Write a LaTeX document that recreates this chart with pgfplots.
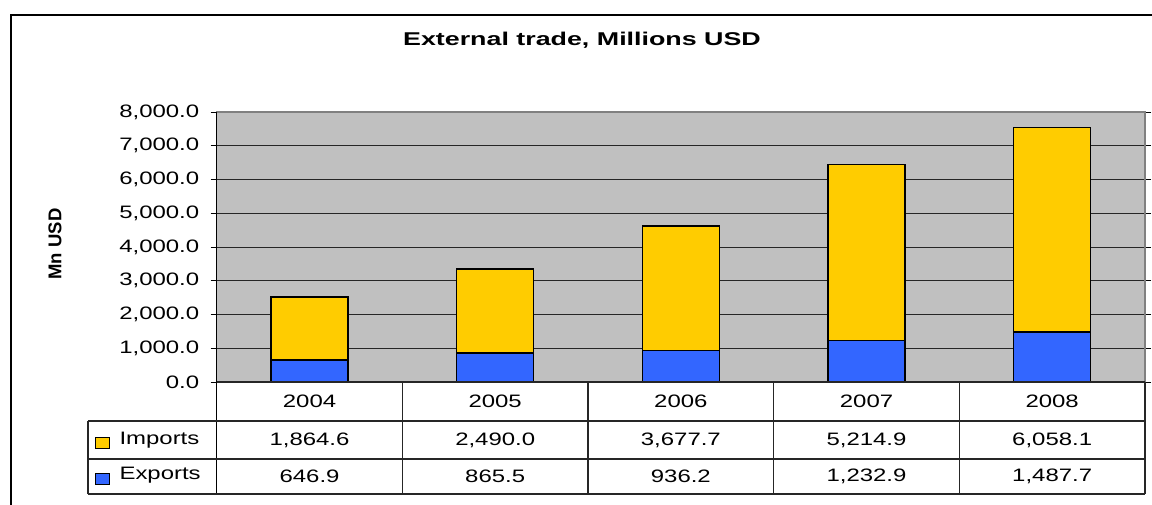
\documentclass[border=0pt]{standalone}
\usepackage{pgfplots}
\pgfplotsset{compat=1.18}
\usepackage{fontspec}
\setmainfont{Liberation Sans}[FakeStretch=1.33]
\newfontfamily\plainsans{Liberation Sans}
\newfontfamily\titlesans{Liberation Sans}[FakeStretch=1.45]
\definecolor{bggray}{HTML}{C0C0C0}
\definecolor{impc}{HTML}{FFCC00}
\definecolor{expc}{HTML}{3366FF}
\newcommand\tf{\fontsize{18}{21}\selectfont}
\begin{document}
\begin{tikzpicture}[x=1pt,y=1pt]
\begin{axis}[
  at={(216.7pt,122pt)}, anchor=south west,
  scale only axis, width=928.3pt, height=270pt,
  ybar stacked, bar width=77pt,
  xmin=-0.5, xmax=4.5, ymin=0, ymax=8000,
  xtick={0,1,2,3,4}, xticklabels={2004,2005,2006,2007,2008},
  xticklabel style={anchor=center, yshift=-19.5pt, font=\tf},
  major x tick style={draw=none},
  ytick={0,1000,...,8000},
  yticklabel style={font=\tf, xshift=-8pt},
  /pgf/number format/.cd, assume math mode=true, fixed, fixed zerofill, precision=1, 1000 sep={,},
  /pgfplots/.cd,
  ytick align=outside, major tick length=6pt,
  major y tick style={black, line width=0.9pt},
  ymajorgrids, grid style={black!85, line width=0.9pt},
  axis background/.style={fill=bggray},
  axis line style={draw=gray, line width=1.2pt},
  clip=false,
]
\addplot[fill=expc, draw=black, line width=1.6pt] coordinates {(0,646.9) (1,865.5) (2,936.2) (3,1232.9) (4,1487.7)};
\addplot[fill=impc, draw=black, line width=1.6pt] coordinates {(0,1864.6) (1,2490.0) (2,3677.7) (3,5214.9) (4,6058.1)};
\node[font=\tf, yshift=-58pt] at (axis cs:0,0) {1,864.6};
\node[font=\tf, yshift=-58pt] at (axis cs:1,0) {2,490.0};
\node[font=\tf, yshift=-58pt] at (axis cs:2,0) {3,677.7};
\node[font=\tf, yshift=-58pt] at (axis cs:3,0) {5,214.9};
\node[font=\tf, yshift=-58pt] at (axis cs:4,0) {6,058.1};
\node[font=\tf, yshift=-94pt] at (axis cs:0,0) {646.9};
\node[font=\tf, yshift=-94pt] at (axis cs:1,0) {865.5};
\node[font=\tf, yshift=-94pt] at (axis cs:2,0) {936.2};
\node[font=\tf, yshift=-94pt] at (axis cs:3,0) {1,232.9};
\node[font=\tf, yshift=-94pt] at (axis cs:4,0) {1,487.7};
\end{axis}
% top border gray
\draw[gray, line width=1.2pt] (216.7pt,392pt) -- (1145pt,392pt);
% left axis line
\draw[black, line width=1.4pt] (216.7pt,392pt) -- (216.7pt,10pt);
% table grid
\draw[black!85, line width=1.1pt] (216.7pt,122pt) -- (1145pt,122pt);
\draw[black!85, line width=1.1pt] (88pt,83pt) -- (1145pt,83pt);
\draw[black!85, line width=1.1pt] (88pt,45pt) -- (1145pt,45pt);
\draw[black!85, line width=1.1pt] (88pt,10pt) -- (1145pt,10pt);
\draw[black!85, line width=1.1pt] (88pt,10pt) -- (88pt,83pt);
\foreach \k in {1,2,3,4,5} {
  \draw[black!85, line width=1.1pt] ({216.7pt+\k*185.66pt},10pt) -- ({216.7pt+\k*185.66pt},122pt);
}
% legend keys
\draw[fill=impc, line width=1pt] (95pt,56pt) rectangle (109pt,67pt);
\node[font=\tf, anchor=west] at (116pt,64pt) {Imports};
\draw[fill=expc, line width=1pt] (95pt,20pt) rectangle (109pt,31pt);
\node[font=\tf, anchor=west] at (116pt,28.5pt) {Exports};
% titles
\node[font=\titlesans\bfseries\fontsize{18.5}{22}\selectfont] at (582pt,464pt) {External trade, Millions USD};
\node[rotate=90, font=\plainsans\bfseries\fontsize{18.5}{21}\selectfont] at (55pt,260pt) {Mn USD};
% frame
\draw[line width=2.2pt] (11pt,-5pt) -- (11pt,489pt) -- (1165pt,489pt);
\pgfresetboundingbox
\path[use as bounding box] (0pt,0pt) rectangle (1152pt,504pt);
\end{tikzpicture}
\end{document}
